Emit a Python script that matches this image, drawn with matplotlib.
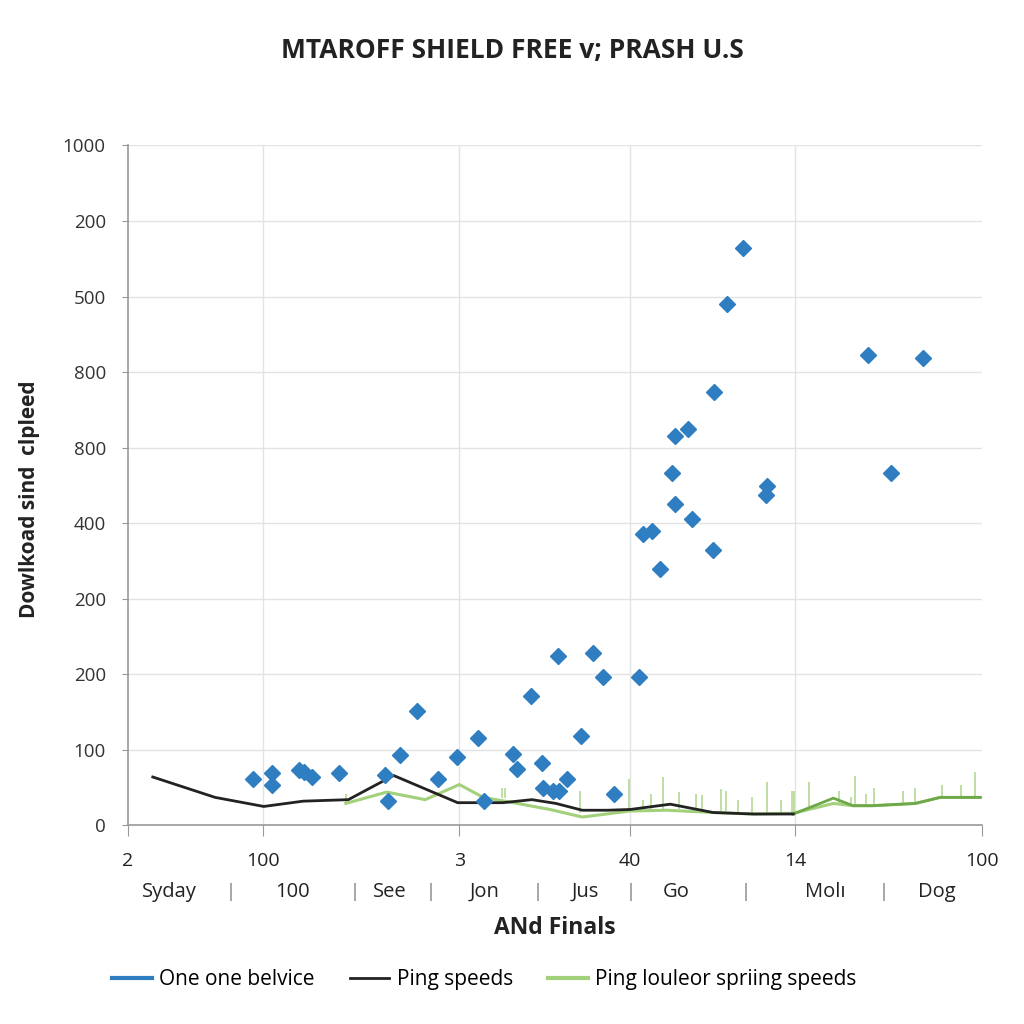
import numpy as np
import matplotlib.pyplot as plt
from matplotlib.lines import Line2D
import matplotlib.transforms as mtransforms

# ---------------- data ----------------
ytick_labels = ['0', '100', '200', '200', '400', '800', '800', '500', '200', '1000']
ytick_pos = [0, 100, 200, 300, 400, 500, 600, 700, 800, 900]

xtick_pos = [0, 15.8, 38.8, 58.8, 78.1, 100]
xtick_labels = ['2', '100', '3', '40', '14', '100']

cat_labels = ['Syday', '100', 'See', 'Jon', 'Jus', 'Go', 'Molı', 'Dog']
cat_pos = [4.9, 19.3, 30.7, 41.8, 53.5, 64.2, 81.7, 94.7]
sep_pos = [12.0, 26.5, 35.4, 48.0, 58.8, 72.3, 88.5]

scatter_x = [14.6, 16.9, 16.9, 20.0, 20.6, 21.5, 24.7, 30.1, 30.4, 31.9,
             33.8, 36.3, 38.5, 41.0, 41.7, 45.1, 45.6, 47.2, 48.5, 48.6,
             49.8, 50.5, 51.4, 53.0, 50.4, 54.4, 55.6, 56.9, 59.8, 60.3,
             61.4, 62.3, 63.7, 64.1, 64.1, 65.6, 66.0, 68.5, 68.6, 70.1,
             72.0, 74.7, 74.8, 86.7, 89.3, 93.1]
scatter_y = [62, 69, 54, 73, 70, 64, 69, 66, 32, 93,
             151, 62, 91, 116, 32, 95, 75, 171, 82, 49,
             45, 45, 61, 118, 224, 228, 197, 41, 197, 386,
             389, 339, 466, 425, 515, 524, 405, 364, 573, 690,
             764, 437, 449, 622, 467, 618]

ping_x = [2.9, 10.2, 15.9, 20.5, 25.8, 31.1, 38.6, 43.9, 47.3, 50.1,
          53.2, 56.1, 58.8, 63.5, 68.5, 73.2, 77.9]
ping_y = [64, 37, 25, 32, 34, 66, 30, 30, 34, 29,
          20, 20, 21, 28, 17, 15, 15]

green_x = [25.5, 30.3, 34.8, 38.8, 41.6, 45.6, 49.4, 53.2, 58.8, 63.1,
           68.5, 73.2, 77.9, 82.6, 84.9, 87.2, 92.2, 95.1, 99.8]
green_y = [29, 44, 34, 54, 37, 29, 21, 11, 19, 20,
           17, 15, 16, 29, 26, 26, 29, 37, 37]

dgreen_x = [77.9, 82.6, 84.9, 87.2, 92.2, 95.1, 99.8]
dgreen_y = [15, 36, 26, 26, 29, 37, 37]

spike_x = [25.5, 43.8, 44.1, 52.9, 58.7, 60.3, 61.2, 62.6, 64.5, 66.5,
           67.2, 69.4, 70.0, 71.4, 73.1, 74.8, 76.5, 77.8, 78.0, 79.7,
           83.3, 84.7, 85.1, 86.4, 87.4, 90.7, 92.2, 95.3, 97.5, 99.2]
spike_top = [42, 49, 50, 46, 62, 33, 42, 64, 44, 42,
             40, 48, 45, 34, 37, 58, 33, 46, 46, 57,
             45, 38, 65, 42, 49, 45, 49, 54, 53, 70]
spike_low = [29, 36, 36, 17, 20, 20, 20, 21, 21, 20,
             20, 19, 19, 17, 16, 16, 15, 15, 15, 19,
             29, 26, 26, 26, 26, 29, 29, 37, 37, 37]

# ---------------- plot ----------------
plt.rcParams['font.family'] = ['Open Sans', 'DejaVu Sans']
blue = '#2f7ec2'
lgreen = '#a3d07a'

fig = plt.figure(figsize=(10.24, 10.24), dpi=100)
ax = fig.add_axes([0.125, 0.194, 0.834, 0.664])

ax.vlines(spike_x, spike_low, spike_top, color='#b9dc9c', linewidth=1.3, zorder=2)
ax.plot(green_x, green_y, color=lgreen, linewidth=2.2, zorder=3)
ax.plot(dgreen_x, dgreen_y, color='#6fa84a', linewidth=2.0, zorder=3)
ax.plot(ping_x, ping_y, color='#222222', linewidth=2.0, zorder=4)
ax.plot(scatter_x, scatter_y, linestyle='None', marker='D', markersize=8,
        color=blue, markeredgecolor=blue, zorder=5)

ax.set_xlim(0, 100)
ax.set_ylim(0, 900)
ax.set_yticks(ytick_pos)
ax.set_yticklabels(ytick_labels, fontsize=13.5, color='#333333')
ax.set_xticks(xtick_pos)
ax.set_xticklabels(xtick_labels, fontsize=14, color='#222222')
ax.tick_params(axis='y', length=4, color='#999999', pad=12)
ax.tick_params(axis='x', length=8, color='#999999', pad=11)

ax.grid(True, axis='y', color='#e3e3e3', linewidth=1.0)
for xv in xtick_pos[1:-1]:
    ax.axvline(xv, color='#e3e3e3', linewidth=1.0, zorder=0)
for s in ['top', 'right']:
    ax.spines[s].set_visible(False)
for s in ['left', 'bottom']:
    ax.spines[s].set_color('#999999')
    ax.spines[s].set_linewidth(1.2)

# second row of category labels
trans = mtransforms.blended_transform_factory(ax.transData, ax.transAxes)
for xp, lab in zip(cat_pos, cat_labels):
    ax.text(xp, -0.098, lab, transform=trans, ha='center', va='center',
            fontsize=14.5, color='#222222')
for xp in sep_pos:
    ax.text(xp, -0.098, '|', transform=trans, ha='center', va='center',
            fontsize=13, color='#777777')

ax.set_xlabel('ANd Finals', fontsize=16.5, fontweight='bold', color='#222222')
ax.xaxis.set_label_coords(0.50, -0.133)
ax.set_ylabel('Dowlkoad sind  clpleed', fontsize=15, fontweight='bold',
              color='#222222')
ax.yaxis.set_label_coords(-0.103, 0.48)

fig.text(0.5, 0.951, 'MTAROFF SHIELD FREE v; PRASH U.S', ha='center',
         va='center', fontsize=19, fontweight='bold', color='#222222')

handles = [Line2D([], [], color=blue, linewidth=3),
           Line2D([], [], color='#222222', linewidth=2),
           Line2D([], [], color=lgreen, linewidth=3)]
labels = ['One one belvice', 'Ping speeds', 'Ping louleor spriing speeds']
fig.legend(handles, labels, loc='center', bbox_to_anchor=(0.473, 0.043),
           ncol=3, frameon=False, fontsize=15, handlelength=1.9,
           columnspacing=1.7, handletextpad=0.35)

fig.savefig('out.png', dpi=100, facecolor='white')
